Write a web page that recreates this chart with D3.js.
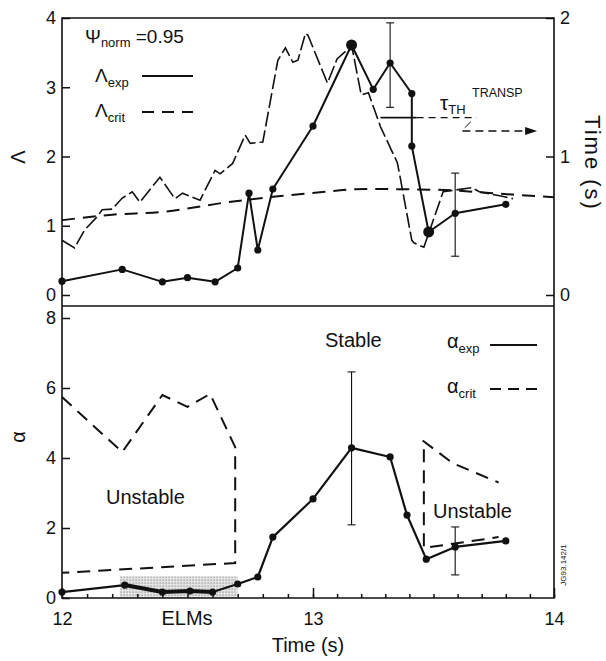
<!DOCTYPE html>
<html>
<head>
<meta charset="utf-8">
<script src="https://cdn.jsdelivr.net/npm/d3@7"></script>
<style>
  body { margin: 0; background: #fff; }
  text { font-family: "Liberation Sans", Arial, sans-serif; fill: #111; }
</style>
</head>
<body>
<svg id="chart" width="606" height="661"></svg>
<script>
// Top panel: Lambda experimental (solid, dots)
const lamExpT = [12.0, 12.24, 12.40, 12.50, 12.61, 12.70, 12.745, 12.78, 12.84, 13.0, 13.16, 13.25, 13.32, 13.41, 13.41, 13.48, 13.59, 13.80]
const lamExpV = [0.20, 0.37, 0.19, 0.25, 0.19, 0.39, 1.47, 0.65, 1.53, 2.44, 3.61, 2.97, 3.35, 2.91, 2.15, 0.91, 1.18, 1.31]
const lamBigDots = [13.16, 13.48]

// Top panel: Lambda critical (jagged dashed)
const lamCritT = [12.0, 12.05, 12.09, 12.14, 12.16, 12.20, 12.24, 12.28, 12.31, 12.39, 12.45, 12.48, 12.55, 12.61, 12.63, 12.68,
  12.73, 12.75, 12.80, 12.86, 12.89, 12.92, 12.94, 12.97, 12.98, 13.06, 13.10, 13.145, 13.16, 13.20, 13.23, 13.28,
  13.35, 13.36, 13.41, 13.42, 13.46, 13.54, 13.66, 13.69, 13.78, 13.83]
const lamCritV = [0.79, 0.68, 0.94, 1.13, 1.23, 1.24, 1.40, 1.49, 1.34, 1.70, 1.39, 1.47, 1.37, 1.80, 1.75, 1.90,
  2.31, 2.19, 2.21, 3.39, 3.57, 3.36, 3.39, 3.78, 3.75, 3.06, 3.41, 3.55, 3.61, 2.89, 2.92, 2.43,
  1.91, 1.73, 0.79, 0.75, 0.69, 1.49, 1.55, 1.49, 1.43, 1.39]

// Top panel: tau_TH from TRANSP (right axis, seconds)
const tauT = [12.0, 12.2, 12.4, 12.66, 12.99, 13.22, 13.5, 13.83, 14.0]
const tauV = [0.54, 0.58, 0.60, 0.67, 0.735, 0.765, 0.76, 0.725, 0.705]

const lamErrT = [13.32, 13.59]
const lamErrLo = [2.71, 0.56]
const lamErrHi = [3.93, 1.76]

// Bottom panel: alpha experimental
const alphaExpT = [12.0, 12.25, 12.40, 12.51, 12.60, 12.70, 12.78, 12.84, 13.0, 13.16, 13.32, 13.39, 13.47, 13.59, 13.80]
const alphaExpV = [0.17, 0.37, 0.17, 0.20, 0.17, 0.40, 0.60, 1.74, 2.83, 4.29, 4.03, 2.37, 1.11, 1.46, 1.63]

// Bottom panel: alpha critical boundaries
const alphaCritAT = [12.0, 12.24, 12.40, 12.50, 12.59, 12.69, 12.69, 12.0]
const alphaCritAV = [5.74, 4.17, 5.80, 5.46, 5.83, 4.31, 1.00, 0.72]
const alphaCritUpT = [13.455, 13.58, 13.77]
const alphaCritUpV = [4.50, 3.85, 3.30]
const alphaCritLoT = [13.46, 13.46, 13.77]
const alphaCritLoV = [4.25, 1.43, 1.74]

const alphaErrT = [13.16, 13.59]
const alphaErrLo = [2.09, 0.66]
const alphaErrHi = [6.46, 2.03]

// ELM period (shaded)
const elmStart = 12.23
const elmEnd = 12.70
const elmTop = 0.62

const lamTicks = [0, 1, 2, 3, 4]
const timeTicks = [0, 1, 2]
const alphaTicks = [0, 2, 4, 6, 8]
const xTicks = [12, 13, 14]

const svg = d3.select('#chart')
const x = d3.scaleLinear().domain([12, 13, 14]).range([62, 313, 554])
const yL = d3.scaleLinear().domain([0, 4]).range([295, 18])
const yT = d3.scaleLinear().domain([0, 2]).range([295, 18])
const yA = d3.scaleLinear().domain([0, 8]).range([598, 318])
const sepY = 306

const FONT = '"Liberation Sans", Arial, sans-serif'
const ink = '#111'
const fmt = d3.format('d')

// stipple pattern for ELM region
const defs = svg.append('defs')
const pat = defs.append('pattern').attr('id', 'stip')
  .attr('width', 3).attr('height', 3).attr('patternUnits', 'userSpaceOnUse')
pat.append('rect').attr('width', 3).attr('height', 3).attr('fill', '#e4e4e4')
pat.append('rect').attr('x', 0.5).attr('y', 0.5).attr('width', 1.2).attr('height', 1.2).attr('fill', '#8a8a8a')

svg.append('rect')
  .attr('x', x(elmStart)).attr('y', yA(elmTop))
  .attr('width', x(elmEnd) - x(elmStart)).attr('height', yA(0) - yA(elmTop))
  .attr('fill', 'url(#stip)')

// frame
const frame = svg.append('g').attr('stroke', ink).attr('stroke-width', 1.6).attr('fill', 'none')
frame.append('path').attr('d', `M${x(12)},${yA(0)}V${yL(4)}H${x(14)}V${yA(0)}Z`)
frame.append('line').attr('x1', x(12)).attr('x2', x(14)).attr('y1', sepY).attr('y2', sepY)

function styleAxis (g) {
  g.select('.domain').remove()
  g.attr('font-size', 18).attr('font-family', FONT)
  g.selectAll('.tick line').attr('stroke', ink).attr('stroke-width', 1.5)
  g.selectAll('.tick text').attr('fill', ink)
}

svg.append('g').attr('transform', `translate(${x(12)},0)`)
  .call(d3.axisLeft(yL).tickValues(lamTicks).tickFormat(fmt).tickSizeInner(-8).tickSizeOuter(0).tickPadding(6))
  .call(styleAxis)
svg.append('g').attr('transform', `translate(${x(14)},0)`)
  .call(d3.axisRight(yT).tickValues(timeTicks).tickFormat(fmt).tickSizeInner(-8).tickSizeOuter(0).tickPadding(6))
  .call(styleAxis)
svg.append('g').attr('transform', `translate(${x(12)},0)`)
  .call(d3.axisLeft(yA).tickValues(alphaTicks).tickFormat(fmt).tickSizeInner(-8).tickSizeOuter(0).tickPadding(6))
  .call(styleAxis)
svg.append('g').attr('transform', `translate(0,${yA(0)})`)
  .call(d3.axisBottom(x).tickValues(d3.range(12.1, 14, 0.1)).tickSizeInner(-4).tickSizeOuter(0).tickFormat(''))
  .call(styleAxis)
svg.append('g').attr('transform', `translate(0,${yA(0)})`)
  .call(d3.axisBottom(x).tickValues(xTicks).tickSizeInner(-10).tickSizeOuter(0).tickPadding(14).tickFormat(fmt))
  .call(styleAxis)

// curves
const lineL = d3.line().x(d => x(d[0])).y(d => yL(d[1]))
const lineT = d3.line().x(d => x(d[0])).y(d => yT(d[1])).curve(d3.curveMonotoneX)
const lineA = d3.line().x(d => x(d[0])).y(d => yA(d[1]))

svg.append('path').datum(d3.zip(tauT, tauV))
  .attr('d', lineT).attr('fill', 'none')
  .attr('stroke', ink).attr('stroke-width', 2).attr('stroke-dasharray', '13,8')

svg.append('path').datum(d3.zip(lamCritT, lamCritV))
  .attr('d', lineL).attr('fill', 'none')
  .attr('stroke', ink).attr('stroke-width', 1.6).attr('stroke-dasharray', '15,4')

svg.append('path').datum(d3.zip(lamExpT, lamExpV))
  .attr('d', lineL).attr('fill', 'none')
  .attr('stroke', ink).attr('stroke-width', 2).attr('stroke-linejoin', 'round')

svg.selectAll('.lamdot').data(d3.zip(lamExpT, lamExpV)).join('circle')
  .attr('class', 'lamdot')
  .attr('cx', d => x(d[0])).attr('cy', d => yL(d[1]))
  .attr('r', d => lamBigDots.includes(d[0]) ? 5.5 : 3.6)
  .attr('fill', ink)

// error bars
function errorBars (T, lo, hi, y) {
  const g = svg.append('g').attr('stroke', ink).attr('stroke-width', 1.1)
  T.forEach((t, i) => {
    g.append('line').attr('x1', x(t)).attr('x2', x(t)).attr('y1', y(lo[i])).attr('y2', y(hi[i]))
    g.append('line').attr('x1', x(t) - 4).attr('x2', x(t) + 4).attr('y1', y(lo[i])).attr('y2', y(lo[i]))
    g.append('line').attr('x1', x(t) - 4).attr('x2', x(t) + 4).attr('y1', y(hi[i])).attr('y2', y(hi[i]))
  })
}
errorBars(lamErrT, lamErrLo, lamErrHi, yL)
errorBars(alphaErrT, alphaErrLo, alphaErrHi, yA)

// bottom panel curves
;[[alphaCritAT, alphaCritAV], [alphaCritUpT, alphaCritUpV], [alphaCritLoT, alphaCritLoV]].forEach(([T, V]) => {
  svg.append('path').datum(d3.zip(T, V))
    .attr('d', lineA).attr('fill', 'none')
    .attr('stroke', ink).attr('stroke-width', 2).attr('stroke-dasharray', '13,8')
})

const alphaPts = d3.zip(alphaExpT, alphaExpV)
svg.append('path').datum(alphaPts)
  .attr('d', lineA).attr('fill', 'none')
  .attr('stroke', ink).attr('stroke-width', 2.2).attr('stroke-linejoin', 'round')
svg.append('path').datum(alphaPts.filter(d => d[0] >= elmStart && d[0] <= elmEnd - 0.05))
  .attr('d', lineA).attr('fill', 'none')
  .attr('stroke', ink).attr('stroke-width', 4).attr('stroke-linejoin', 'round')
svg.selectAll('.adot').data(alphaPts).join('circle')
  .attr('class', 'adot')
  .attr('cx', d => x(d[0])).attr('cy', d => yA(d[1]))
  .attr('r', 3.6).attr('fill', ink)

// labels with sub/superscripts
function label (px, py, parts, size) {
  const t = svg.append('text').attr('x', px).attr('y', py).attr('font-size', size)
  let shift = 0
  parts.forEach(p => {
    const dy = (p.dy || 0) - shift
    shift = p.dy || 0
    t.append('tspan').attr('dy', dy).attr('font-size', p.size || size).text(p.s)
  })
  return t
}

label(85, 43, [{ s: 'Ψ' }, { s: 'norm', size: 13, dy: 4 }, { s: ' =0.95' }], 19)
label(95, 82, [{ s: 'Λ' }, { s: 'exp', size: 13, dy: 5 }], 19)
label(95, 117, [{ s: 'Λ' }, { s: 'crit', size: 13, dy: 5 }], 19)
label(447, 348, [{ s: 'α' }, { s: 'exp', size: 13, dy: 5 }], 20)
label(447, 393, [{ s: 'α' }, { s: 'crit', size: 13, dy: 5 }], 20)
label(440, 110, [{ s: 'τ' }, { s: 'TH', size: 13, dy: 4 }], 21)
svg.append('text').attr('x', 472).attr('y', 97).attr('font-size', 12.5).text('TRANSP')

// legend keys
const keys = svg.append('g').attr('stroke', ink).attr('stroke-width', 2)
keys.append('line').attr('x1', 142).attr('x2', 193).attr('y1', 76).attr('y2', 76)
keys.append('line').attr('x1', 142).attr('x2', 193).attr('y1', 112).attr('y2', 112).attr('stroke-dasharray', '12,8')
keys.append('line').attr('x1', 490).attr('x2', 537).attr('y1', 345).attr('y2', 345)
keys.append('line').attr('x1', 490).attr('x2', 537).attr('y1', 389).attr('y2', 389).attr('stroke-dasharray', '11,7')

// tau_TH pointer to right axis
const ptrY = 2.56
const ptrSolidEnd = 13.43
const ptrEnd = 13.68
const arrowY = 2.37
const arrowFrom = 13.62
const arrowTo = 13.93
const ptr = svg.append('g').attr('stroke', ink).attr('fill', 'none')
ptr.append('line').attr('x1', x(13.28)).attr('x2', x(ptrSolidEnd)).attr('y1', yL(ptrY)).attr('y2', yL(ptrY)).attr('stroke-width', 1.8)
ptr.append('line').attr('x1', x(ptrSolidEnd)).attr('x2', x(ptrEnd)).attr('y1', yL(ptrY)).attr('y2', yL(ptrY))
  .attr('stroke-width', 1.3).attr('stroke-dasharray', '7,5')
ptr.append('line').attr('x1', x(13.63)).attr('x2', x(13.655)).attr('y1', yL(ptrY) + 10).attr('y2', yL(ptrY) + 4).attr('stroke-width', 1)
ptr.append('line').attr('x1', x(arrowFrom)).attr('x2', x(arrowTo) - 8).attr('y1', yL(arrowY)).attr('y2', yL(arrowY))
  .attr('stroke-width', 1.5).attr('stroke-dasharray', '8,5')
svg.append('path')
  .attr('d', `M${x(arrowTo)},${yL(arrowY)}l-12,-4l0,8z`)
  .attr('fill', ink)

// region / axis titles
svg.append('text').attr('x', 325).attr('y', 347).attr('font-size', 20).text('Stable')
svg.append('text').attr('x', 106).attr('y', 504).attr('font-size', 20).text('Unstable')
svg.append('text').attr('x', 433).attr('y', 518).attr('font-size', 20).text('Unstable')
svg.append('text').attr('x', 187).attr('y', 625).attr('font-size', 20).attr('text-anchor', 'middle').text('ELMs')
svg.append('text').attr('x', 308).attr('y', 652).attr('font-size', 20).attr('text-anchor', 'middle').text('Time (s)')
svg.append('text').attr('transform', 'translate(25,157) rotate(-90)').attr('font-size', 20).attr('text-anchor', 'middle').text('Λ')
svg.append('text').attr('transform', 'translate(25,437) rotate(-90)').attr('font-size', 20).attr('text-anchor', 'middle').text('α')
svg.append('text').attr('transform', 'translate(585,163) rotate(90)').attr('font-size', 22)
  .attr('letter-spacing', 2).attr('text-anchor', 'middle').text('Time (s)')
svg.append('text').attr('transform', 'translate(566,565) rotate(-90)').attr('font-size', 8)
  .attr('text-anchor', 'middle').text('JG93.142/1')
</script>
</body>
</html>
